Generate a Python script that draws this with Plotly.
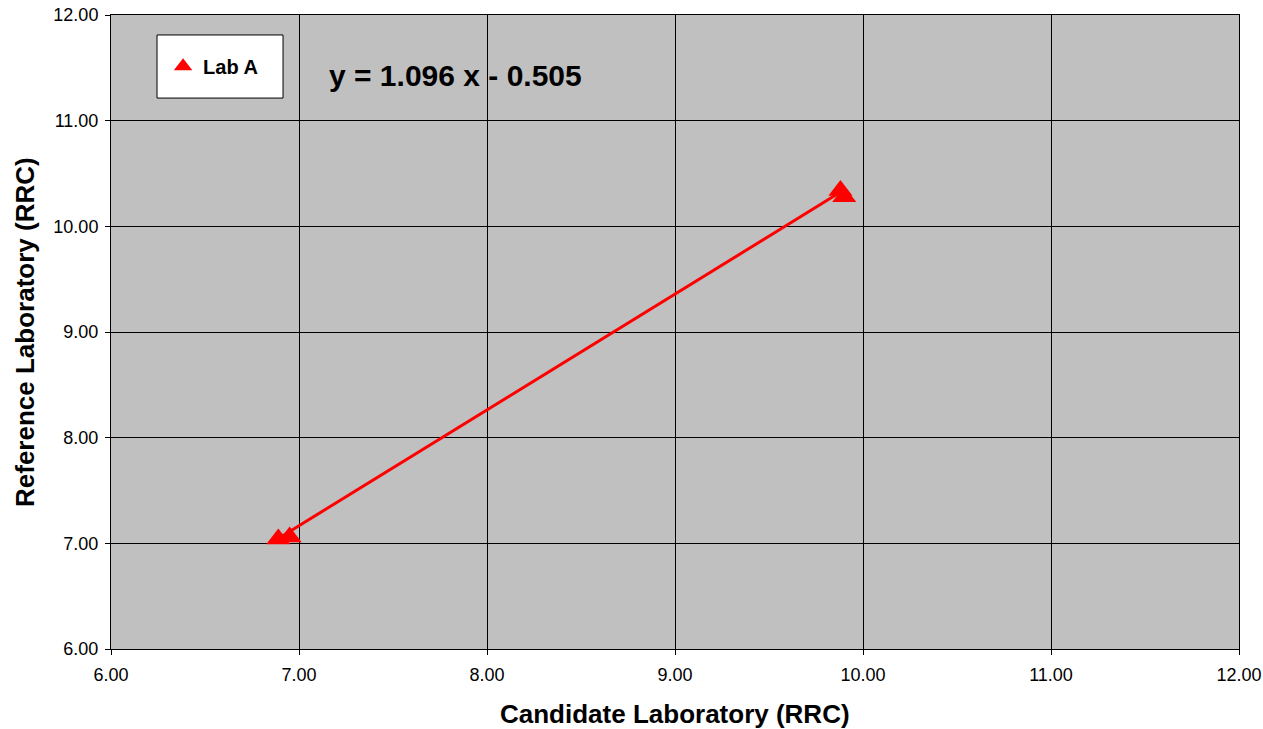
import plotly.graph_objects as go

# Data
lab_a_x = [6.89, 6.95, 9.88, 9.90]
lab_a_y = [7.04, 7.06, 10.34, 10.28]
slope = 1.096
intercept = -0.505
x_ticks = [6, 7, 8, 9, 10, 11, 12]
y_ticks = [6, 7, 8, 9, 10, 11, 12]

font_family = "Liberation Sans, Arial, sans-serif"

fit_x = [min(lab_a_x), max(lab_a_x)]
fit_y = [slope * v + intercept for v in fit_x]

fig = go.Figure()
fig.add_trace(go.Scatter(
    x=fit_x, y=fit_y, mode="lines",
    line=dict(color="#FF0000", width=3),
    showlegend=False, hoverinfo="skip"))
fig.add_trace(go.Scatter(
    x=lab_a_x, y=lab_a_y, mode="markers", name="<b>Lab A</b>",
    marker=dict(symbol="triangle-up", size=21, color="#FF0000",
                line=dict(width=0))))

axis_common = dict(
    showgrid=True, gridcolor="#000000", gridwidth=1,
    showline=True, linecolor="#000000", linewidth=1, mirror=True,
    ticks="outside", ticklen=5, tickcolor="#000000",
    tickfont=dict(family=font_family, size=18, color="#000000"),
    zeroline=False, tickformat=".2f", range=[6, 12], fixedrange=True,
    automargin=False)

fig.update_xaxes(tickvals=x_ticks, ticklabelstandoff=4, **axis_common)
fig.update_yaxes(tickvals=y_ticks, ticklabelstandoff=3, **axis_common)

# axis titles
fig.add_annotation(xref="paper", yref="paper", x=0.5, y=0, yshift=-65,
                   text="<b>Candidate Laboratory (RRC)</b>", showarrow=False,
                   font=dict(family=font_family, size=26, color="#000000"),
                   xanchor="center", yanchor="middle")
fig.add_annotation(xref="paper", yref="paper", x=0, y=0.5, xshift=-86,
                   text="<b>Reference Laboratory (RRC)</b>", showarrow=False,
                   textangle=-90,
                   font=dict(family=font_family, size=26, color="#000000"),
                   xanchor="center", yanchor="middle")

# legend box
fig.add_shape(type="rect", xref="paper", yref="paper",
              x0=0.0408, x1=0.1525, y0=0.869, y1=0.9685,
              line=dict(color="#000000", width=1), fillcolor="#FFFFFF", layer="above")

fig.add_annotation(xref="paper", yref="paper", x=0.3054, y=0.9038,
                   text="<b>y = 1.096 x - 0.505</b>", showarrow=False,
                   font=dict(family=font_family, size=30, color="#000000"),
                   xanchor="center", yanchor="middle")

fig.update_layout(
    width=1263, height=729,
    margin=dict(l=111, r=24, t=15, b=80),
    paper_bgcolor="#FFFFFF", plot_bgcolor="#C0C0C0",
    legend=dict(x=0.0905, y=0.919, xanchor="center", yanchor="middle",
                bgcolor="rgba(0,0,0,0)", borderwidth=0,
                font=dict(family=font_family, size=20, color="#000000"),
                itemsizing="trace", itemwidth=30),
    font=dict(family=font_family, color="#000000"),
    showlegend=True,
)

fig.write_html("out.html",
               config={"displayModeBar": False},
               post_script="document.body.style.margin='0';document.body.style.overflow='hidden';")
